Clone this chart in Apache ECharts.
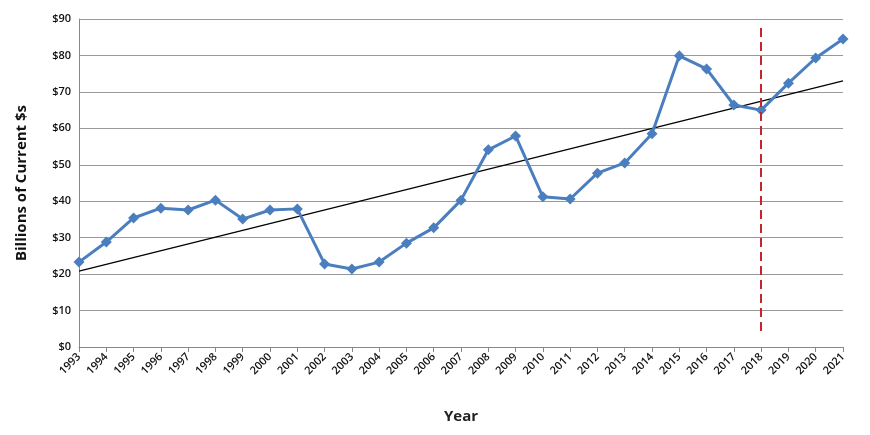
<!DOCTYPE html>
<html><head><meta charset="utf-8">
<script src="https://cdn.jsdelivr.net/npm/echarts@6/dist/echarts.min.js"></script>
<style>body{margin:0}#c{width:870px;height:435px}</style></head>
<body><div id="c"></div>
<script>
const years=['1993','1994','1995','1996','1997','1998','1999','2000','2001','2002','2003','2004','2005','2006','2007','2008','2009','2010','2011','2012','2013','2014','2015','2016','2017','2018','2019','2020','2021'];
const values=[23.3,28.8,35.4,38.1,37.6,40.3,35.1,37.6,37.9,22.8,21.4,23.3,28.5,32.7,40.3,54.1,57.9,41.2,40.6,47.7,50.5,58.5,79.9,76.3,66.4,65.0,72.4,79.3,84.5];
const trendEnds=[20.8,73.0];
const chart=echarts.init(document.getElementById('c'));
const f='Open Sans, sans-serif';
chart.setOption({
 animation:false,
 grid:{left:79,right:27,top:19,bottom:88},
 xAxis:{type:'category',data:years,boundaryGap:false,name:'Year',nameLocation:'middle',nameGap:62,
  nameTextStyle:{fontWeight:'bold',fontSize:15,color:'#222',fontFamily:f},
  axisLine:{lineStyle:{color:'#888'}},axisTick:{show:true,alignWithLabel:true,lineStyle:{color:'#888'}},
  axisLabel:{rotate:45,fontSize:11,fontWeight:600,color:'#111',fontFamily:f,interval:0}},
 yAxis:{type:'value',min:0,max:90,interval:10,name:'Billions of Current $s',nameLocation:'middle',nameGap:50,
  nameTextStyle:{fontWeight:'bold',fontSize:15,color:'#111',fontFamily:f},
  axisLine:{show:true,lineStyle:{color:'#888'}},
  axisLabel:{formatter:'${value}',fontSize:11,fontWeight:600,color:'#111',fontFamily:f},
  splitLine:{lineStyle:{color:'#999'}}},
 series:[
  {type:'line',data:[[years[0],trendEnds[0]],[years[years.length-1],trendEnds[1]]],symbol:'none',
   lineStyle:{color:'#000',width:1.2},z:1},
  {type:'line',data:values,symbol:'diamond',symbolSize:11,
   lineStyle:{color:'#4a7ebf',width:3},itemStyle:{color:'#4a7ebf'},z:3,
   markLine:{symbol:'none',silent:true,label:{show:false},
    lineStyle:{color:'#c0282d',type:[9,5],width:2},
    data:[[{xAxis:'2018',y:28},{xAxis:'2018',y:333}]]}}
 ]
});
</script></body></html>
